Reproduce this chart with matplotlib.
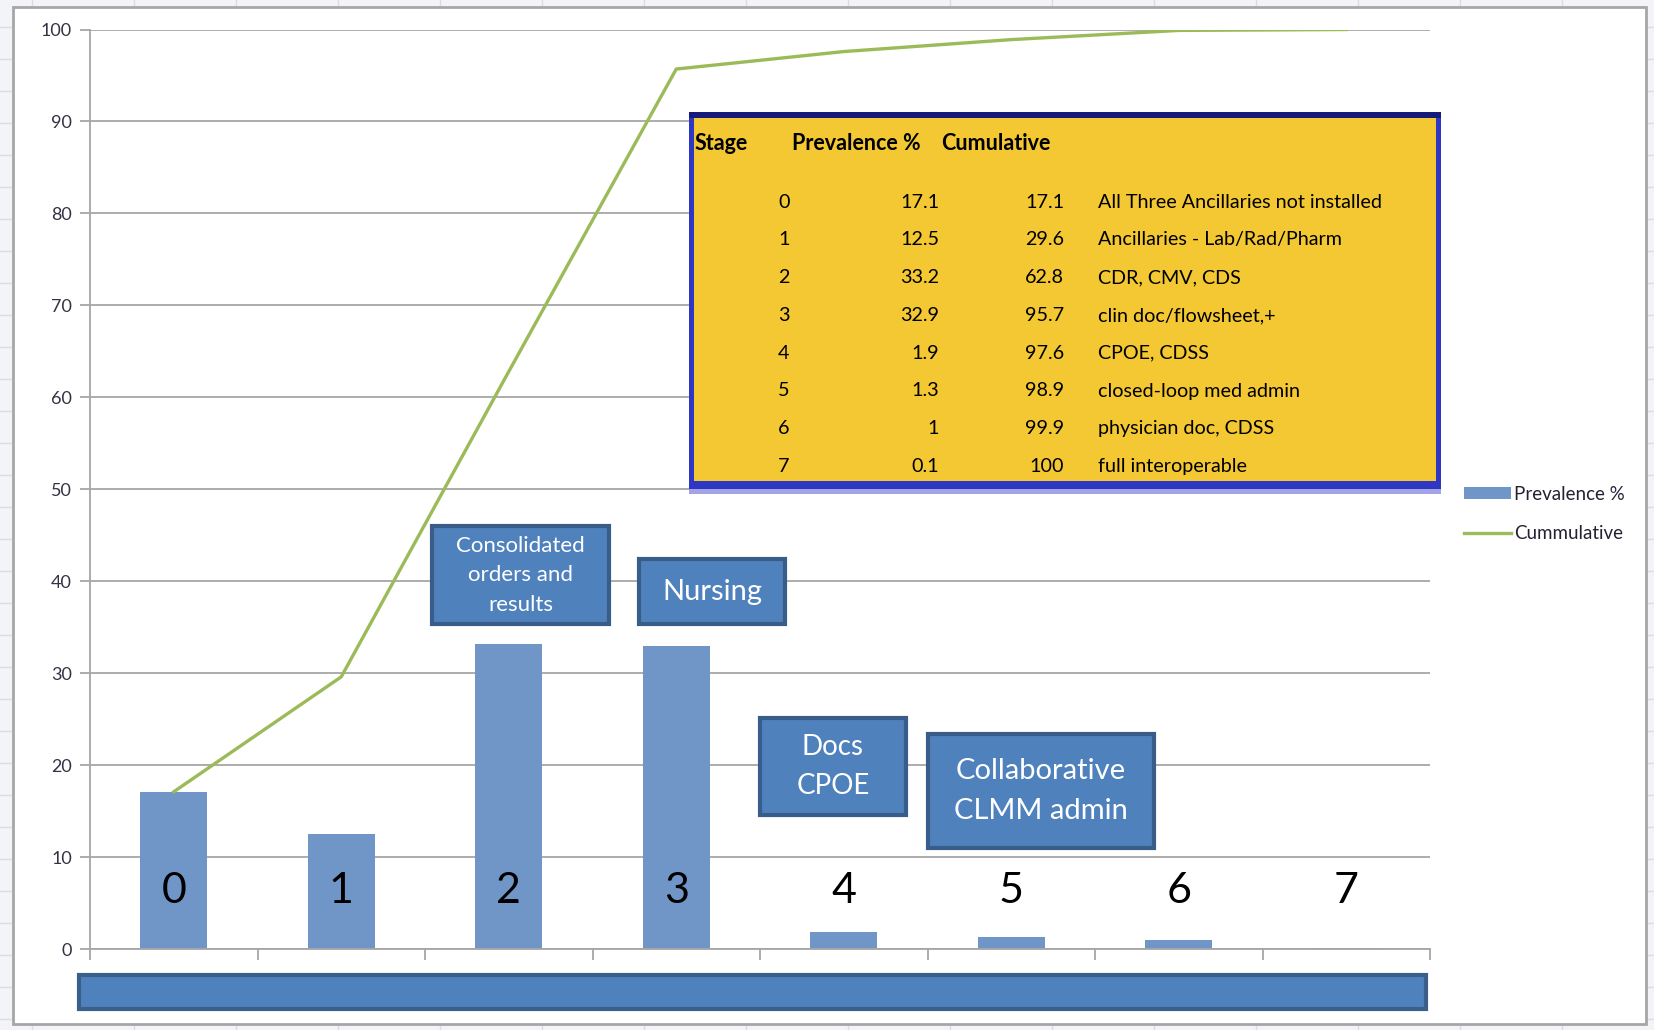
import matplotlib.pyplot as plt
from matplotlib.patches import Rectangle, Patch
from matplotlib.lines import Line2D

plt.rcParams['font.family'] = ['Lato', 'DejaVu Sans']

W, H = 1654, 1030

# data
stages = [0, 1, 2, 3, 4, 5, 6, 7]
prevalence = [17.1, 12.5, 33.2, 32.9, 1.9, 1.3, 1, 0.1]
cumulative = [17.1, 29.6, 62.8, 95.7, 97.6, 98.9, 99.9, 100]
descriptions = ['All Three Ancillaries not installed', 'Ancillaries - Lab/Rad/Pharm',
                'CDR, CMV, CDS', 'clin doc/flowsheet,+', 'CPOE, CDSS',
                'closed-loop med admin', 'physician doc, CDSS', 'full interoperable']
header = ['Stage', 'Prevalence %', 'Cumulative']
callouts = ['Consolidated\norders and\nresults', 'Nursing', 'Docs\nCPOE',
            'Collaborative\nCLMM admin']
yticks = list(range(0, 101, 10))


def fx(px):
    return px / W


def fy(py):
    return 1 - py / H


fig = plt.figure(figsize=(W / 100, H / 100), dpi=100)
fig.patch.set_facecolor('#F3F4F8')

# spreadsheet grid behind the chart
for x in range(32, W, 102):
    fig.add_artist(Line2D([fx(x), fx(x)], [0, 1], color='#DADDE6', lw=1, zorder=-3))
for y in range(27, H, 32):
    fig.add_artist(Line2D([0, 1], [fy(y), fy(y)], color='#DADDE6', lw=1, zorder=-3))

# chart area
fig.add_artist(Rectangle((fx(13), fy(1024)), fx(1646) - fx(13), (1024 - 7) / H,
                         transform=fig.transFigure, facecolor='white',
                         edgecolor='#A6A6A6', lw=2, zorder=-2))

ax = fig.add_axes([fx(90), fy(949), fx(1430) - fx(90), (949 - 29.5) / H])
ax.set_facecolor('none')

ax.bar(stages, prevalence, width=0.4, color='#7096C8', zorder=2)
ax.plot(stages, cumulative, color='#9BBB59', lw=2.4, zorder=3)

ax.set_xlim(-0.5, 7.5)
ax.set_ylim(0, 100)
ax.set_yticks(yticks)
ax.grid(axis='y', color='#A6A6A6', lw=1.3)
ax.set_axisbelow(True)
ax.set_xticks([i - 0.5 for i in range(len(stages) + 1)])
ax.set_xticklabels([])
ax.tick_params(axis='x', length=8, width=1.3, color='#A6A6A6', direction='out')
ax.tick_params(axis='y', length=7, width=1.3, color='#A6A6A6', labelsize=13,
               labelcolor='#333344', pad=6)
for s in ['top', 'right']:
    ax.spines[s].set_visible(False)
for s in ['left', 'bottom']:
    ax.spines[s].set_color('#A6A6A6')
    ax.spines[s].set_linewidth(1.3)

# big stage numbers
for s in stages:
    ax.text(s, 6.3, str(s), ha='center', va='center', fontsize=31, color='black', zorder=4)

# callout boxes (x0, x1, y0, y1, fontsize, linespacing)
box_layout = [(1.54, 2.60, 35.3, 46.0, 16, 1.6),
              (2.78, 3.65, 35.3, 42.4, 21, 1.2),
              (3.50, 4.37, 14.6, 25.1, 20, 1.65),
              (4.50, 5.85, 11.0, 23.4, 21, 1.65)]
for label, (x0, x1, y0, y1, fs, ls) in zip(callouts, box_layout):
    ax.add_patch(Rectangle((x0, y0), x1 - x0, y1 - y0, facecolor='#4F81BD',
                           edgecolor='#385D8A', lw=3, zorder=5))
    ax.text((x0 + x1) / 2, (y0 + y1) / 2, label, ha='center', va='center',
            fontsize=fs, color='white', linespacing=ls, zorder=6)

# bottom blue bar
fig.add_artist(Rectangle((fx(79), fy(1009)), fx(1426) - fx(79), (1009 - 975) / H,
                         transform=fig.transFigure, facecolor='#4F81BD',
                         edgecolor='#3B5F8C', lw=3, zorder=2))

# yellow table box
fig.add_artist(Rectangle((fx(689), fy(494)), fx(1441) - fx(689), (494 - 489) / H,
                         transform=fig.transFigure, facecolor='#A3A3E6', lw=0, zorder=2))
fig.add_artist(Rectangle((fx(689), fy(489)), fx(1441) - fx(689), (489 - 112) / H,
                         transform=fig.transFigure, facecolor='#2E36C4', lw=0, zorder=2))
fig.add_artist(Rectangle((fx(689), fy(118)), fx(1441) - fx(689), (118 - 112) / H,
                         transform=fig.transFigure, facecolor='#161A78', lw=0, zorder=2))
fig.add_artist(Rectangle((fx(694), fy(481)), fx(1436) - fx(694), (481 - 118) / H,
                         transform=fig.transFigure, facecolor='#F3C832', lw=0, zorder=2))

hfs = 15.5
tfs = 14.2
fig.text(fx(695), fy(143), header[0], fontsize=hfs, fontweight='bold', va='center', zorder=3)
fig.text(fx(792), fy(143), header[1], fontsize=hfs, fontweight='bold', va='center', zorder=3)
fig.text(fx(941), fy(143), header[2], fontsize=hfs, fontweight='bold', va='center', zorder=3)
for i, (s, p, c, d) in enumerate(zip(stages, prevalence, cumulative, descriptions)):
    ry = fy(202 + i * 37.8)
    fig.text(fx(784), ry, str(s), fontsize=tfs, ha='center', va='center', zorder=3)
    fig.text(fx(939), ry, f'{p:g}', fontsize=tfs, ha='right', va='center', zorder=3)
    fig.text(fx(1064), ry, f'{c:g}', fontsize=tfs, ha='right', va='center', zorder=3)
    fig.text(fx(1098), ry, d, fontsize=tfs, ha='left', va='center', zorder=3)

# legend
handles = [Patch(facecolor='#7096C8'), Line2D([], [], color='#9BBB59', lw=2.4)]
leg = fig.legend(handles, ['Prevalence %', 'Cummulative'], loc='upper left',
                 bbox_to_anchor=(fx(1447), fy(469)), frameon=False, fontsize=13.5,
                 handlelength=2.5, handleheight=0.6, labelspacing=1.2, handletextpad=0.2)
for t in leg.get_texts():
    t.set_color('#222233')

fig.savefig('out.png', dpi=100, facecolor=fig.get_facecolor())
